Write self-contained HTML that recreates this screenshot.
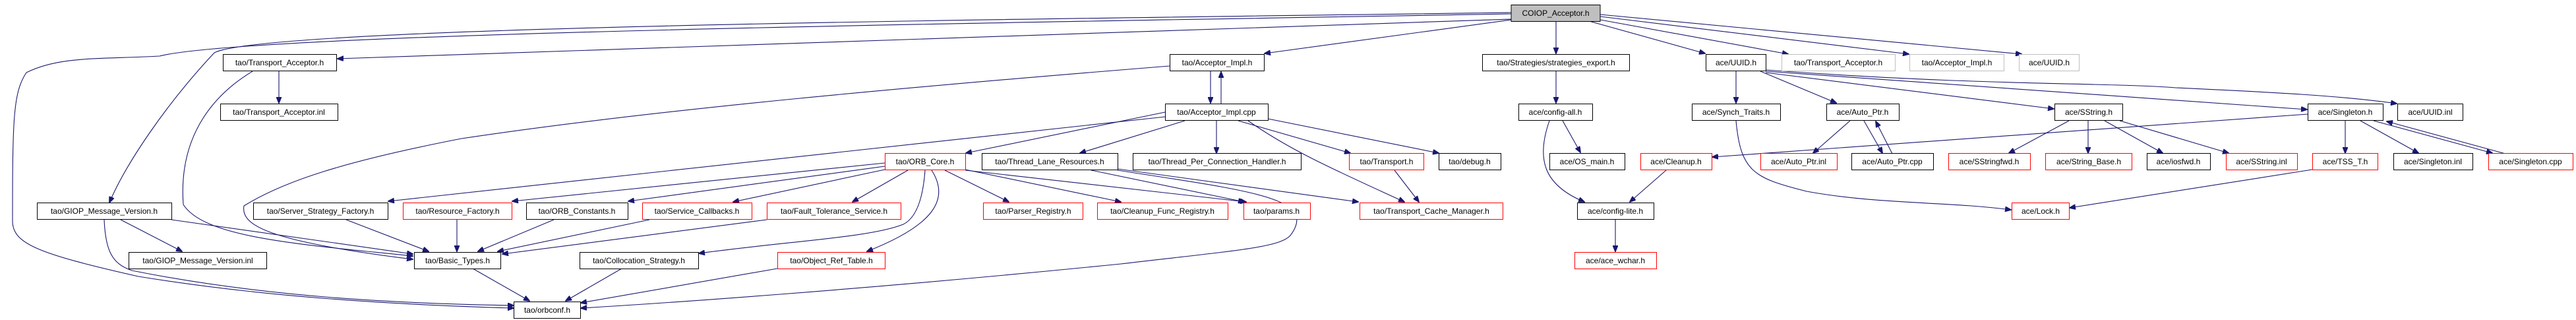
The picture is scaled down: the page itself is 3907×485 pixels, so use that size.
<!DOCTYPE html>
<html><head><meta charset="utf-8"><style>
html,body{margin:0;padding:0;background:#fff;}
svg{display:block}
text{font-family:"Liberation Sans",sans-serif;font-size:12px;fill:#000;text-anchor:middle;dominant-baseline:central}
.e{fill:none;stroke:#191970;stroke-width:1.1}
.b{fill:#fff;stroke:#000;stroke-width:1}
.r{fill:#fff;stroke:#f00;stroke-width:1}
.g{fill:#fff;stroke:#bfbfbf;stroke-width:1}
</style></head><body>
<svg width="3907" height="485" viewBox="0 0 3907 485" xmlns="http://www.w3.org/2000/svg">
<defs><marker id="a" markerWidth="10" markerHeight="8" refX="9" refY="4" orient="auto" markerUnits="userSpaceOnUse"><path d="M0,0 L10,4 L0,8 z" fill="#191970" stroke="#191970"/></marker></defs>
<g marker-end="url(#a)">
<path class="e" d="M2292,19 C1500,30 400,40 325,80 C250,160 190,250 166,307"/>
<path class="e" d="M2292,21 C1500,35 380,50 242,85 C150,90 90,85 40,110 C20,140 19,180 19,335 C19,370 60,385 210,419 C400,450 600,462 779,467"/>
<path class="e" d="M2292,29 L512,89"/>
<path class="e" d="M2292,30 L1918,81"/>
<path class="e" d="M2360,32 L2360,81"/>
<path class="e" d="M2410,32 L2586,81"/>
<path class="e" d="M2427,30 L2712,82"/>
<path class="e" d="M2427,25 L2895,82"/>
<path class="e" d="M2427,22 L3066,82"/>
<path class="e" d="M1774,100 C1400,130 1000,165 700,210 C520,245 430,275 370,312 C365,340 400,365 626,393"/>
<path class="e" d="M423,108 L423,156"/>
<path class="e" d="M383,108 C330,140 270,200 278,310 C310,360 450,370 626,388"/>
<path class="e" d="M260,333 L626,385"/>
<path class="e" d="M183,333 L276,381"/>
<path class="e" d="M158,333 C160,380 170,400 200,410 C400,450 600,460 779,463"/>
<path class="e" d="M525,333 L650,381"/>
<path class="e" d="M693,333 L693,381"/>
<path class="e" d="M840,333 L725,381"/>
<path class="e" d="M985,333 L755,381"/>
<path class="e" d="M1163,333 L762,385"/>
<path class="e" d="M717,407 L803,456"/>
<path class="e" d="M943,407 L858,456"/>
<path class="e" d="M1179,407 L881,459"/>
<path class="e" d="M1695,258 C1900,290 2000,300 1957,357 C1940,375 1880,379 1700,400 C1300,440 1000,460 881,467"/>
<path class="e" d="M1836,108 L1836,156"/>
<path class="e" d="M1852,157 L1852,109"/>
<path class="e" d="M1767,170 L1465,232"/>
<path class="e" d="M1797,183 L1638,232"/>
<path class="e" d="M1845,183 L1845,232"/>
<path class="e" d="M1878,183 L2048,232"/>
<path class="e" d="M1923,180 L2182,232"/>
<path class="e" d="M1893,183 C1960,230 2030,260 2130,306"/>
<path class="e" d="M1767,177 L589,305"/>
<path class="e" d="M1342,247 L777,305"/>
<path class="e" d="M1342,252 L953,305"/>
<path class="e" d="M1342,257 L1112,306"/>
<path class="e" d="M1377,258 L1293,306"/>
<path class="e" d="M1403,258 C1400,300 1390,330 1370,340 C1320,360 1200,365 1060,384"/>
<path class="e" d="M1413,258 C1440,300 1420,340 1315,381"/>
<path class="e" d="M1433,258 L1530,306"/>
<path class="e" d="M1464,257 L1700,306"/>
<path class="e" d="M1464,258 L1890,306"/>
<path class="e" d="M1655,258 L1887,306"/>
<path class="e" d="M1695,256 L2060,306"/>
<path class="e" d="M2115,258 L2152,306"/>
<path class="e" d="M2360,108 L2360,156"/>
<path class="e" d="M2370,183 L2397,231"/>
<path class="e" d="M2350,183 C2330,240 2340,280 2403,306"/>
<path class="e" d="M2527,258 L2472,306"/>
<path class="e" d="M2450,333 L2450,381"/>
<path class="e" d="M2633,108 L2633,156"/>
<path class="e" d="M2670,108 L2785,156"/>
<path class="e" d="M2678,110 L3115,165"/>
<path class="e" d="M2678,108 L3499,166"/>
<path class="e" d="M2678,106 C3000,130 3200,125 3300,133 C3450,140 3550,145 3635,157"/>
<path class="e" d="M2633,183 C2640,260 2660,270 2740,290 C2850,310 2950,305 3050,318"/>
<path class="e" d="M2806,183 L2750,232"/>
<path class="e" d="M2827,183 L2855,232"/>
<path class="e" d="M2870,233 L2845,184"/>
<path class="e" d="M3500,173 L2597,238"/>
<path class="e" d="M3138,183 L3047,232"/>
<path class="e" d="M3167,183 L3167,232"/>
<path class="e" d="M3192,183 L3280,232"/>
<path class="e" d="M3215,183 L3380,232"/>
<path class="e" d="M3557,183 L3557,232"/>
<path class="e" d="M3580,183 L3668,232"/>
<path class="e" d="M3600,183 L3780,232"/>
<path class="e" d="M3800,233 L3620,184"/>
<path class="e" d="M3507,257 L3139,315"/>
</g>
<rect x="2292" y="7.5" width="135" height="25" fill="#bfbfbf" stroke="#000"/><text x="2359.5" y="20">COIOP_Acceptor.h</text>
<rect class="b" x="338.5" y="82.5" width="172" height="25"/><text x="424" y="95">tao/Transport_Acceptor.h</text>
<rect class="b" x="1774.5" y="82.5" width="143" height="25"/><text x="1846" y="95">tao/Acceptor_Impl.h</text>
<rect class="b" x="2248.5" y="82.5" width="223" height="25"/><text x="2360" y="95">tao/Strategies/strategies_export.h</text>
<rect class="b" x="2587.5" y="82.5" width="91" height="25"/><text x="2633" y="95">ace/UUID.h</text>
<rect class="g" x="2702.5" y="82.5" width="172" height="25"/><text x="2788" y="95">tao/Transport_Acceptor.h</text>
<rect class="g" x="2896.5" y="82.5" width="143" height="25"/><text x="2968" y="95">tao/Acceptor_Impl.h</text>
<rect class="g" x="3062.5" y="82.5" width="91" height="25"/><text x="3108" y="95">ace/UUID.h</text>
<rect class="b" x="334.5" y="157.5" width="178" height="25"/><text x="423" y="170">tao/Transport_Acceptor.inl</text>
<rect class="b" x="1767.5" y="157.5" width="156" height="25"/><text x="1845" y="170">tao/Acceptor_Impl.cpp</text>
<rect class="b" x="2303.5" y="157.5" width="112" height="25"/><text x="2359" y="170">ace/config-all.h</text>
<rect class="b" x="2566.5" y="157.5" width="134" height="25"/><text x="2633" y="170">ace/Synch_Traits.h</text>
<rect class="b" x="2770.5" y="157.5" width="110" height="25"/><text x="2825" y="170">ace/Auto_Ptr.h</text>
<rect class="b" x="3116.5" y="157.5" width="103" height="25"/><text x="3168" y="170">ace/SString.h</text>
<rect class="b" x="3500.5" y="157.5" width="114" height="25"/><text x="3557" y="170">ace/Singleton.h</text>
<rect class="b" x="3636.5" y="157.5" width="99" height="25"/><text x="3686" y="170">ace/UUID.inl</text>
<rect class="r" x="1342.5" y="232.5" width="122" height="25"/><text x="1403" y="245">tao/ORB_Core.h</text>
<rect class="b" x="1489.5" y="232.5" width="206" height="25"/><text x="1592" y="245">tao/Thread_Lane_Resources.h</text>
<rect class="b" x="1718.5" y="232.5" width="255" height="25"/><text x="1846" y="245">tao/Thread_Per_Connection_Handler.h</text>
<rect class="r" x="2046.5" y="232.5" width="113" height="25"/><text x="2103" y="245">tao/Transport.h</text>
<rect class="b" x="2182.5" y="232.5" width="94" height="25"/><text x="2229" y="245">tao/debug.h</text>
<rect class="b" x="2350.5" y="232.5" width="114" height="25"/><text x="2407" y="245">ace/OS_main.h</text>
<rect class="r" x="2488.5" y="232.5" width="108" height="25"/><text x="2542" y="245">ace/Cleanup.h</text>
<rect class="r" x="2670.5" y="232.5" width="116" height="25"/><text x="2728" y="245">ace/Auto_Ptr.inl</text>
<rect class="b" x="2808.5" y="232.5" width="124" height="25"/><text x="2870" y="245">ace/Auto_Ptr.cpp</text>
<rect class="r" x="2955.5" y="232.5" width="124" height="25"/><text x="3017" y="245">ace/SStringfwd.h</text>
<rect class="r" x="3102.5" y="232.5" width="131" height="25"/><text x="3168" y="245">ace/String_Base.h</text>
<rect class="b" x="3256.5" y="232.5" width="96" height="25"/><text x="3304" y="245">ace/iosfwd.h</text>
<rect class="r" x="3376.5" y="232.5" width="108" height="25"/><text x="3430" y="245">ace/SString.inl</text>
<rect class="r" x="3507.5" y="232.5" width="99" height="25"/><text x="3557" y="245">ace/TSS_T.h</text>
<rect class="b" x="3630.5" y="232.5" width="120" height="25"/><text x="3690" y="245">ace/Singleton.inl</text>
<rect class="r" x="3774.5" y="232.5" width="128" height="25"/><text x="3838" y="245">ace/Singleton.cpp</text>
<rect class="b" x="56.5" y="307.5" width="204" height="25"/><text x="158" y="320">tao/GIOP_Message_Version.h</text>
<rect class="b" x="384.5" y="307.5" width="204" height="25"/><text x="486" y="320">tao/Server_Strategy_Factory.h</text>
<rect class="r" x="611.5" y="307.5" width="165" height="25"/><text x="694" y="320">tao/Resource_Factory.h</text>
<rect class="b" x="798.5" y="307.5" width="154" height="25"/><text x="875" y="320">tao/ORB_Constants.h</text>
<rect class="r" x="974.5" y="307.5" width="166" height="25"/><text x="1057" y="320">tao/Service_Callbacks.h</text>
<rect class="r" x="1163.5" y="307.5" width="203" height="25"/><text x="1265" y="320">tao/Fault_Tolerance_Service.h</text>
<rect class="r" x="1491.5" y="307.5" width="151" height="25"/><text x="1567" y="320">tao/Parser_Registry.h</text>
<rect class="r" x="1664.5" y="307.5" width="198" height="25"/><text x="1763" y="320">tao/Cleanup_Func_Registry.h</text>
<rect class="r" x="1886.5" y="307.5" width="101" height="25"/><text x="1936" y="320">tao/params.h</text>
<rect class="r" x="2062.5" y="307.5" width="217" height="25"/><text x="2171" y="320">tao/Transport_Cache_Manager.h</text>
<rect class="b" x="2392.5" y="307.5" width="116" height="25"/><text x="2450" y="320">ace/config-lite.h</text>
<rect class="r" x="3051.5" y="307.5" width="87" height="25"/><text x="3095" y="320">ace/Lock.h</text>
<rect class="b" x="195.5" y="382.5" width="209" height="25"/><text x="300" y="395">tao/GIOP_Message_Version.inl</text>
<rect class="b" x="628.5" y="382.5" width="131" height="25"/><text x="694" y="395">tao/Basic_Types.h</text>
<rect class="b" x="879.5" y="382.5" width="180" height="25"/><text x="969" y="395">tao/Collocation_Strategy.h</text>
<rect class="r" x="1179.5" y="382.5" width="163" height="25"/><text x="1261" y="395">tao/Object_Ref_Table.h</text>
<rect class="r" x="2388.5" y="382.5" width="124" height="25"/><text x="2450" y="395">ace/ace_wchar.h</text>
<rect class="b" x="779.5" y="457.5" width="101" height="25"/><text x="830" y="470">tao/orbconf.h</text>
</svg>
</body></html>
